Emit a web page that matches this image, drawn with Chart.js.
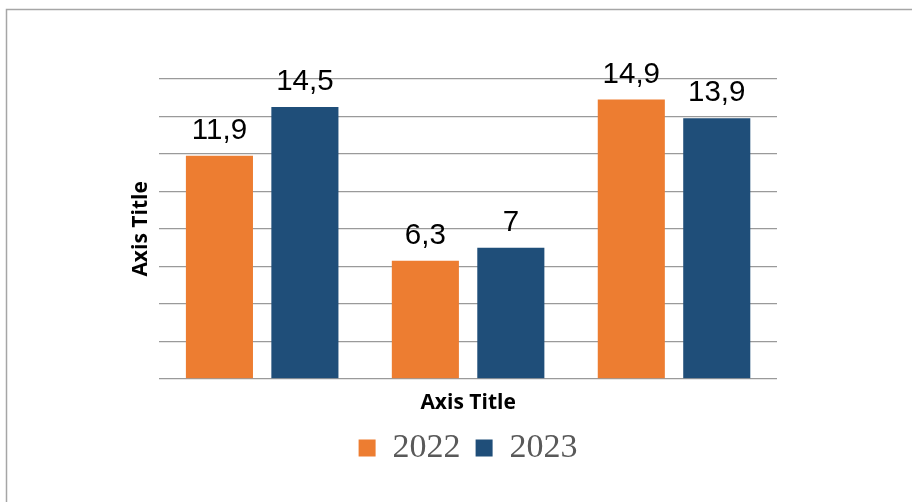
<!DOCTYPE html>
<html>
<head>
<meta charset="utf-8">
<script src="https://cdn.jsdelivr.net/npm/chart.js@4/dist/chart.umd.min.js"></script>
<style>
  html, body { margin: 0; padding: 0; background: #ffffff; }
  canvas { display: block; }
</style>
</head>
<body>
<canvas id="c" width="912" height="502"></canvas>
<script>
const categories = ['', '', ''];
const seriesNames = ['2022', '2023'];
const values2022 = [11.9, 6.3, 14.9];
const values2023 = [14.5, 7, 13.9];
const yTicks = [0, 2, 4, 6, 8, 10, 12, 14, 16];

const frame = {
  id: 'frame',
  beforeDraw(chart) {
    const ctx = chart.ctx;
    ctx.save();
    ctx.fillStyle = '#ffffff';
    ctx.fillRect(0, 0, chart.width, chart.height);
    ctx.strokeStyle = '#a6a6a6';
    ctx.lineWidth = 1.5;
    ctx.strokeRect(6.5, 9.5, 1200, 1200);
    ctx.restore();
  }
};

const valueLabels = {
  id: 'valueLabels',
  afterDatasetsDraw(chart) {
    const ctx = chart.ctx;
    ctx.save();
    ctx.font = '29.5px "Liberation Sans", Arial, sans-serif';
    ctx.fillStyle = '#000000';
    ctx.textAlign = 'center';
    ctx.textBaseline = 'alphabetic';
    chart.data.datasets.forEach((ds, di) => {
      const meta = chart.getDatasetMeta(di);
      meta.data.forEach((bar, i) => {
        const txt = String(ds.data[i]).replace('.', ',');
        ctx.fillText(txt, bar.x, bar.y - 17);
      });
    });
    ctx.restore();
  }
};

new Chart(document.getElementById('c'), {
  type: 'bar',
  data: {
    labels: categories,
    datasets: [
      { label: seriesNames[0], data: values2022, backgroundColor: '#ED7D31',
        categoryPercentage: 0.83, barPercentage: 0.785 },
      { label: seriesNames[1], data: values2023, backgroundColor: '#1F4E79',
        categoryPercentage: 0.83, barPercentage: 0.785 }
    ]
  },
  options: {
    responsive: false,
    animation: false,
    layout: { padding: { left: 128, right: 135, top: 79, bottom: 27 } },
    plugins: {
      legend: {
        position: 'bottom',
        fullSize: false,
        labels: {
          boxWidth: 17, boxHeight: 17, padding: 15,
          color: '#595959',
          font: { family: '"Liberation Serif", "Times New Roman", serif', size: 34 }
        }
      },
      tooltip: { enabled: false }
    },
    scales: {
      x: {
        grid: { display: false, drawTicks: false },
        border: { display: false },
        ticks: { display: false },
        title: {
          display: true, text: 'Axis Title', color: '#000000',
          font: { family: '"Open Sans", sans-serif', size: 21, weight: 'bold' },
          padding: { top: 12, bottom: 0 }
        }
      },
      y: {
        min: 0, max: 16,
        afterBuildTicks(scale) { scale.ticks = yTicks.map(v => ({ value: v })); },
        grid: { color: '#9a9a9a', lineWidth: 1.2, drawTicks: false },
        border: { display: false },
        ticks: { display: false },
        title: {
          display: true, text: 'Axis Title', color: '#000000',
          font: { family: '"Open Sans", sans-serif', size: 21, weight: 'bold' },
          padding: { top: 0, bottom: 6 }
        }
      }
    }
  },
  plugins: [frame, valueLabels]
});
</script>
</body>
</html>
